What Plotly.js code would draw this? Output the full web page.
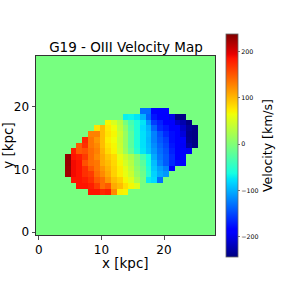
<!DOCTYPE html>
<html><head><meta charset="utf-8">
<script src="https://cdn.plot.ly/plotly-3.0.1.min.js"></script>
<style>html,body{margin:0;padding:0;background:#fff}#c{width:289px;height:289px}</style>
</head><body><div id="c"></div>
<script>
// Spaxel size in kpc and grid size
const kpcPerCell = 0.923;
const gridSize = 31;
// Velocity of the empty spaxels
const backgroundVelocity = -6;
// Row numbers (from the bottom), first lit column, and velocities in km/s
const rowIndex = [21,20,19,18,17,16,15,14,13,12,11,10,9,8,7];
const firstCol = [18,15,12,10,9,8,7,6,5,5,5,5,6,7,9];
const row21 = [-131,-131,-183,-185,-185];
const row20 = [-70,-68,-75,-98,-136,-174,-185,-186,-200,-242,-242];
const row19 = [68,51,30,-5,-34,-57,-75,-112,-155,-169,-185,-192,-213,-225,-242];
const row18 = [78,98,75,65,36,7,-28,-57,-80,-98,-136,-164,-174,-185,-187,-213,-234,-242];
const row17 = [129,129,98,78,68,42,13,-22,-57,-77,-94,-122,-145,-164,-178,-186,-205,-238,-242];
const row16 = [175,134,118,98,73,65,39,13,-22,-57,-77,-96,-122,-141,-155,-178,-186,-192,-236,-242];
const row15 = [149,170,134,124,98,78,68,42,13,-22,-57,-77,-94,-117,-136,-150,-174,-186,-194,-229,-242];
const row14 = [180,149,154,139,129,103,83,70,45,16,-16,-52,-75,-91,-112,-131,-145,-169,-184,-186,-196];
const row13 = [230,185,180,165,139,124,108,93,83,60,42,24,1,-34,-63,-103,-127,-141,-164,-184,-186];
const row12 = [228,190,185,154,139,134,108,98,85,68,48,30,1,-22,-63,-94,-122,-141,-164,-178,-186];
const row11 = [226,190,185,170,149,134,118,103,88,73,57,36,7,-16,-57,-89,-108,-122,-190];
const row10 = [224,190,185,170,164,139,124,108,88,73,60,42,13,-11,-52,-84,-103,-112];
const row9  = [185,185,180,170,149,139,118,98,88,68,54,24,-5,-72,-80,-131];
const row8  = [185,185,180,164,139,149,108,98,80,68,54];
const row7  = [185,185,175,180,124,73,70];
const litRows = [row21,row20,row19,row18,row17,row16,row15,row14,row13,row12,row11,row10,row9,row8,row7];
// Tick labels
const xyTicks = [0,10,20];
const cbTicks = [-200,-100,0,100,200];
const vMin = -244, vMax = 238;
// matplotlib "jet"
const jetStops = [0,0.11,0.125,0.34,0.35,0.375,0.64,0.65,0.66,0.89,0.91,1];
const jetColors = ['rgb(0,0,128)','rgb(0,0,255)','rgb(0,0,255)','rgb(0,219,255)','rgb(0,229,247)','rgb(21,255,226)','rgb(239,255,8)','rgb(247,246,0)','rgb(255,236,0)','rgb(255,19,0)','rgb(232,0,0)','rgb(128,0,0)'];

const z = [];
for (let r = 0; r < gridSize; r++) z.push(new Array(gridSize).fill(backgroundVelocity));
litRows.forEach((vals, i) => vals.forEach((v, j) => { z[rowIndex[i]][firstCol[i] + j] = v; }));

const font = 'DejaVu Sans, sans-serif';
const axis = {
  ticks:'outside', ticklen:3.5, tickwidth:0.8, tickcolor:'#222', tickvals:xyTicks,
  showgrid:false, zeroline:false, showline:true, mirror:true, linecolor:'#333', linewidth:1,
  tickfont:{family:font,size:12,color:'#000'}
};
Plotly.newPlot('c', [{
  type:'heatmap', z:z, x0:0, dx:kpcPerCell, y0:0, dy:kpcPerCell,
  zmin:vMin, zmax:vMax, zsmooth:false,
  colorscale: jetStops.map((s,i)=>[s,jetColors[i]]),
  colorbar:{
    lenmode:'pixels', len:223, thicknessmode:'pixels', thickness:12,
    x:1.061, xanchor:'left', y:0.5, yanchor:'middle', xpad:0, ypad:0,
    outlinewidth:0.8, outlinecolor:'#666',
    tickmode:'array', tickvals:cbTicks, ticks:'outside', ticklen:2, tickwidth:0.6, tickcolor:'#222',
    tickfont:{family:font,size:6.3,color:'#000'},
    title:{text:'Velocity [km/s]', side:'right', font:{family:font,size:12.5,color:'#000'}}
  }
}], {
  width:289, height:289, paper_bgcolor:'#fff', plot_bgcolor:'#fff',
  margin:{l:36,r:74,t:56,b:54,pad:0},
  title:{text:'G19 - OIII Velocity Map', x:126/289, xanchor:'center', y:1-47/289, yanchor:'middle', font:{family:font,size:13.5,color:'#000'}},
  annotations:[{text:'x [kpc]', xref:'paper', yref:'paper', x:0.5, y:-0.158, xanchor:'center', yanchor:'middle', showarrow:false, font:{family:font,size:13.5,color:'#000'}}],
  xaxis:Object.assign({}, axis, {range:[-0.4615,28.15]}),
  yaxis:Object.assign({}, axis, {range:[-0.4615,28.15], title:{text:'y [kpc]', standoff:3, font:{family:font,size:13.5,color:'#000'}}})
}, {displayModeBar:false, staticPlot:true});
</script></body></html>
